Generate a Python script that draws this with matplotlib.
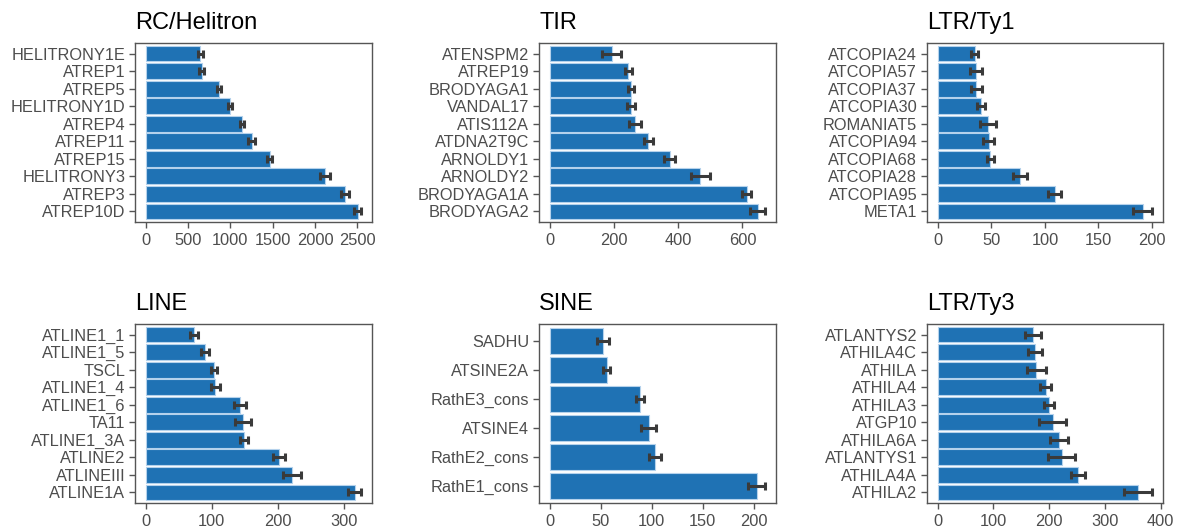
import numpy as np
import matplotlib
matplotlib.use("Agg")
import matplotlib.pyplot as plt

plt.rcParams['font.family'] = ['Liberation Sans', 'DejaVu Sans']

# RC/Helitron
helitron_names = ['HELITRONY1E', 'ATREP1', 'ATREP5', 'HELITRONY1D', 'ATREP4',
                  'ATREP11', 'ATREP15', 'HELITRONY3', 'ATREP3', 'ATREP10D']
helitron_vals = [645, 660, 867, 996, 1140, 1250, 1465, 2117, 2355, 2504]
helitron_err = [27, 25, 27, 27, 27, 37, 33, 60, 45, 43]

# TIR
tir_names = ['ATENSPM2', 'ATREP19', 'BRODYAGA1', 'VANDAL17', 'ATIS112A',
             'ATDNA2T9C', 'ARNOLDY1', 'ARNOLDY2', 'BRODYAGA1A', 'BRODYAGA2']
tir_vals = [193, 245, 254, 254, 265, 307, 374, 469, 613, 648]
tir_err = [30, 11, 9, 12, 18, 13, 17, 29, 14, 23]

# LTR/Ty1
ty1_names = ['ATCOPIA24', 'ATCOPIA57', 'ATCOPIA37', 'ATCOPIA30', 'ROMANIAT5',
             'ATCOPIA94', 'ATCOPIA68', 'ATCOPIA28', 'ATCOPIA95', 'META1']
ty1_vals = [34.5, 35.7, 36, 40.6, 47, 47.7, 49, 77, 109, 191.4]
ty1_err = [3.5, 5.4, 5.4, 3.5, 7.7, 5.2, 3.4, 6.5, 5.7, 8.8]

# LINE
line_names = ['ATLINE1_1', 'ATLINE1_5', 'TSCL', 'ATLINE1_4', 'ATLINE1_6',
              'TA11', 'ATLINE1_3A', 'ATLINE2', 'ATLINEIII', 'ATLINE1A']
line_vals = [72.5, 89, 103, 105.5, 142, 147.5, 148.5, 201.5, 221, 316]
line_err = [6, 6, 5, 7, 9, 12, 6.5, 9, 14, 10]

# SINE
sine_names = ['SADHU', 'ATSINE2A', 'RathE3_cons', 'ATSINE4', 'RathE2_cons', 'RathE1_cons']
sine_vals = [52.6, 55.8, 88.6, 97, 103, 203]
sine_err = [5.8, 3.2, 3.6, 7.5, 6, 8.3]

# LTR/Ty3
ty3_names = ['ATLANTYS2', 'ATHILA4C', 'ATHILA', 'ATHILA4', 'ATHILA3',
             'ATGP10', 'ATHILA6A', 'ATLANTYS1', 'ATHILA4A', 'ATHILA2']
ty3_vals = [171.6, 174, 177, 193.5, 200, 206, 218, 222.5, 251.5, 360]
ty3_err = [14.5, 12.4, 17, 10.4, 9.2, 23.7, 16.3, 24.5, 13, 25]

panels = [
    ('RC/Helitron', helitron_names, helitron_vals, helitron_err, [0, 500, 1000, 1500, 2000, 2500]),
    ('TIR', tir_names, tir_vals, tir_err, [0, 200, 400, 600]),
    ('LTR/Ty1', ty1_names, ty1_vals, ty1_err, [0, 50, 100, 150, 200]),
    ('LINE', line_names, line_vals, line_err, [0, 100, 200, 300]),
    ('SINE', sine_names, sine_vals, sine_err, [0, 50, 100, 150, 200]),
    ('LTR/Ty3', ty3_names, ty3_vals, ty3_err, [0, 100, 200, 300, 400]),
]

W, H = 1180, 532
fig = plt.figure(figsize=(W / 100, H / 100), dpi=100)

# panel boxes in pixels: left, right, top, bottom
lefts = [135, 539, 927]
rights = [372, 776, 1163]
rows = [(43, 222), (324, 503)]

bar_color = '#1F72B4'
grey = '#4D4D4D'

for i, (title, names, vals, errs, ticks) in enumerate(panels):
    r, c = divmod(i, 3)
    top, bottom = rows[r]
    ax = fig.add_axes([lefts[c] / W, 1 - bottom / H, (rights[c] - lefts[c]) / W, (bottom - top) / H])
    n = len(names)
    y = np.arange(n)[::-1]
    ax.barh(y, vals, height=0.9, color=bar_color, edgecolor='#B5D2EC', linewidth=0.8)
    ax.errorbar(vals, y, xerr=errs, fmt='none', ecolor='#3A3A3A', elinewidth=2.2,
                capsize=2.8, capthick=2.2)
    m = max(v + e for v, e in zip(vals, errs))
    ax.set_xlim(-0.05 * m, 1.05 * m)
    ax.set_ylim(-0.6, n - 0.4)
    ax.set_yticks(y)
    ax.set_yticklabels(names)
    ax.set_xticks(ticks)
    for s in ax.spines.values():
        s.set_color('#555555')
        s.set_linewidth(1.0)
    ax.tick_params(axis='both', colors='#555555', length=4, width=1.0,
                   labelsize=11.8, labelcolor=grey, pad=3)
    ax.tick_params(axis='x', pad=4)
    ax.set_title(title, loc='left', fontsize=17, pad=10, color='black')

fig.savefig('out.png', dpi=100)
